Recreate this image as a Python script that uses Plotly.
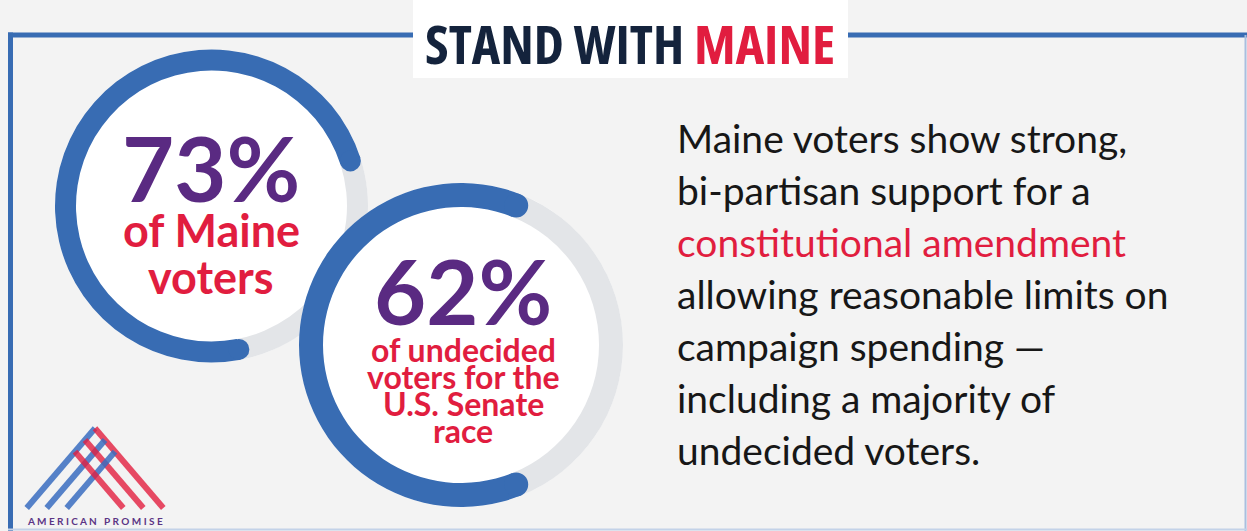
import math
import plotly.graph_objects as go

W, H = 1247, 531

# --- data ---
pcts = [73, 62]
pct_labels = ["73%", "62%"]
sub_lines = [
    ["of Maine", "voters"],
    ["of undecided", "voters for the", "U.S. Senate", "race"],
]
title_dark = "STAND WITH "
title_red = "MAINE"
body_lines = [
    "Maine voters show strong,",
    "bi-partisan support for a",
    "constitutional amendment",
    "allowing reasonable limits on",
    "campaign spending \u2014",
    "including a majority of",
    "undecided voters.",
]
body_red = [2]
logo_text = "AMERICAN PROMISE"

# --- styling ---
BG = "#f3f3f3"
BLUE = "#386cb3"
TRACK = "#e3e5e8"
PURPLE = "#5a2a82"
RED = "#e11d3f"
NAVY = "#14233c"
INK = "#171717"
FONT = "Lato, 'Noto Sans', sans-serif"
NARROW = "'Open Sans', sans-serif"

# donut geometry in pixels: centre, outer radius, ring thickness, angle of blue top end
donuts = [
    dict(cx=211.5, cy=206, r=156.5, w=21, end=18),
    dict(cx=461, cy=345, r=162, w=24, end=68.4),
]
pct_style = [dict(x=211, base=202, size=90), dict(x=463, base=325, size=90)]
sub_style = [dict(x=211, base=248, size=45, gap=47), dict(x=463, base=362, size=32, gap=27)]


def fx(x):
    return x / W


def fy(y):
    return 1 - y / H


fig = go.Figure()
shapes = []
annotations = []


def text(x, base, s, size, color, weight=400, family=FONT, xanchor="center"):
    # annotations are placed by their box centre, so shift up from the baseline
    annotations.append(dict(
        x=fx(x), y=fy(base - 0.39 * size), xref="paper", yref="paper",
        text=s, showarrow=False, xanchor=xanchor, yanchor="middle",
        font=dict(family=family, size=size, color=color, weight=weight),
    ))


for d, pct in zip(donuts, pcts):
    dom_x = [fx(d["cx"] - d["r"]), fx(d["cx"] + d["r"])]
    dom_y = [fy(d["cy"] + d["r"]), fy(d["cy"] - d["r"])]
    # white disc under the ring
    fig.add_trace(go.Pie(
        values=[1], marker=dict(colors=["white"]), domain=dict(x=dom_x, y=dom_y),
        textinfo="none", hoverinfo="skip", showlegend=False, sort=False,
    ))
    # blue arc starts at the lower end and runs clockwise up to the top end
    span = 360 * pct / 100
    rot = (90 - d["end"]) - span
    rot = (rot + 180) % 360 - 180
    fig.add_trace(go.Pie(
        values=[pct, 100 - pct], marker=dict(colors=[BLUE, TRACK]),
        hole=(d["r"] - d["w"]) / d["r"], rotation=rot, direction="clockwise",
        domain=dict(x=dom_x, y=dom_y), sort=False,
        textinfo="none", hoverinfo="skip", showlegend=False,
    ))
    # round caps at both ends of the blue arc
    rm = d["r"] - d["w"] / 2
    for a in (rot, rot + span):
        ax = d["cx"] + rm * math.sin(math.radians(a))
        ay = d["cy"] - rm * math.cos(math.radians(a))
        shapes.append(dict(
            type="circle", xref="paper", yref="paper", layer="above",
            x0=fx(ax - d["w"] / 2), x1=fx(ax + d["w"] / 2),
            y0=fy(ay + d["w"] / 2), y1=fy(ay - d["w"] / 2),
            fillcolor=BLUE, line_width=0,
        ))

# frame and title box
shapes += [
    dict(type="line", xref="paper", yref="paper", x0=fx(8), x1=fx(1247), y0=fy(35), y1=fy(35),
         line=dict(color=BLUE, width=5), layer="below"),
    dict(type="line", xref="paper", yref="paper", x0=fx(10.5), x1=fx(10.5), y0=fy(32.5), y1=0,
         line=dict(color=BLUE, width=5), layer="below"),
    dict(type="line", xref="paper", yref="paper", x0=fx(1245.5), x1=fx(1245.5), y0=fy(35), y1=0,
         line=dict(color="#a9bfdf", width=2), layer="below"),
    dict(type="line", xref="paper", yref="paper", x0=fx(8), x1=1, y0=fy(529.5), y1=fy(529.5),
         line=dict(color="#c3d2e8", width=2), layer="below"),
    dict(type="rect", xref="paper", yref="paper", x0=fx(413), x1=fx(848), y0=fy(78), y1=1,
         fillcolor="white", line_width=0, layer="below"),
]

# logo: three blue and three red stripes forming an "A"
lx0, lx1, ly0, ly1 = 26.7, 163.3, 508, 428.3
half = (lx1 - lx0) / 2
step = 20
for i in range(3):
    t = 1 - i * step / (2 * half)
    bx = lx0 + i * step
    shapes.append(dict(type="line", xref="paper", yref="paper",
                       x0=fx(bx), y0=fy(ly0), x1=fx(bx + half * t), y1=fy(ly0 - (ly0 - ly1) * t),
                       line=dict(color="rgba(56,108,192,0.85)", width=6), layer="below"))
    rx = lx1 - i * step
    shapes.append(dict(type="line", xref="paper", yref="paper",
                       x0=fx(rx), y0=fy(ly0), x1=fx(rx - half * t), y1=fy(ly0 - (ly0 - ly1) * t),
                       line=dict(color="rgba(226,30,62,0.8)", width=6), layer="below"))

# texts
text(630, 64, f"<span style='font-stretch:condensed;color:{NAVY}'>{title_dark}</span>"
              f"<span style='font-stretch:condensed;color:{RED}'>{title_red}</span>",
     54, NAVY, 700, NARROW)
for lbl, st in zip(pct_labels, pct_style):
    text(st["x"], st["base"], lbl, st["size"], PURPLE, 700)
for lines, st in zip(sub_lines, sub_style):
    for k, ln in enumerate(lines):
        text(st["x"], st["base"] + k * st["gap"], ln, st["size"], RED, 700)
for k, ln in enumerate(body_lines):
    text(675, 153 + k * 52, ln, 39, RED if k in body_red else INK, 400, xanchor="left")
text(95, 525, " ".join(logo_text), 10, "#5b3585", 700)

fig.update_layout(
    width=W, height=H, margin=dict(l=0, r=0, t=0, b=0),
    paper_bgcolor=BG, plot_bgcolor=BG,
    shapes=shapes, annotations=annotations, showlegend=False,
)
fig.write_html("out.html", config={"displayModeBar": False},
               post_script="document.body.style.margin='0';")
